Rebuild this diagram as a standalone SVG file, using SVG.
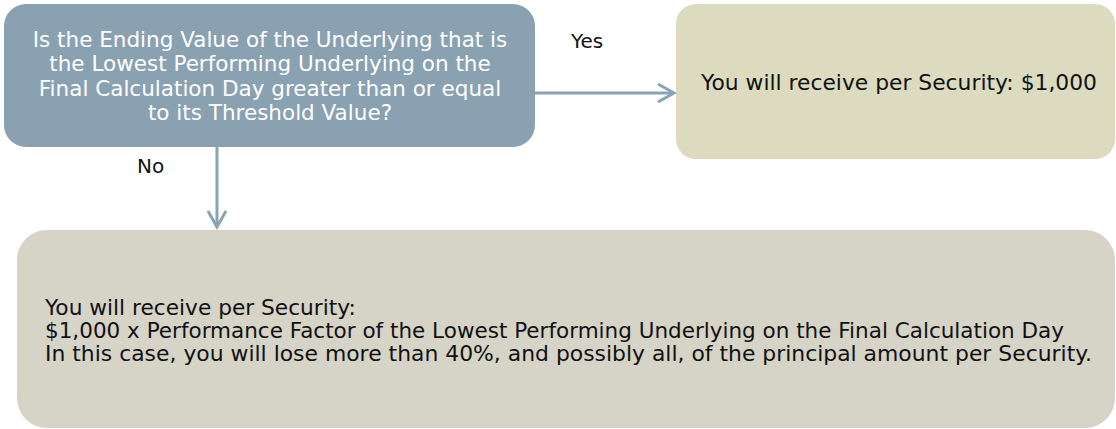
<svg xmlns="http://www.w3.org/2000/svg" width="1116" height="429" viewBox="0 0 1116 429">
<defs>
<style>
.t{font-family:"DejaVu Sans",Verdana,sans-serif;font-size:21.7px;fill:#111}
.w{font-family:"DejaVu Sans",Verdana,sans-serif;font-size:21.5px;fill:#fff;text-anchor:middle}
.l{font-family:"DejaVu Sans",Verdana,sans-serif;font-size:20px;fill:#111}
.c{stroke:#8aa3b5;stroke-width:3;fill:none}
</style>
<marker id="a" markerWidth="20" markerHeight="22" refX="17" refY="11" orient="auto" markerUnits="userSpaceOnUse">
<path d="M1,2 L17,11 L1,20" fill="none" stroke="#8aa3b5" stroke-width="3"/>
</marker>
</defs>
<rect width="1116" height="429" fill="#fff"/>
<g id="question">
<rect x="4" y="4" width="531" height="143" rx="22" fill="#8aa1b2"/>
<text class="w" x="270" y="47">Is the Ending Value of the Underlying that is</text>
<text class="w" x="270" y="71">the Lowest Performing Underlying on the</text>
<text class="w" x="270" y="96">Final Calculation Day greater than or equal</text>
<text class="w" x="270" y="120">to its Threshold Value?</text>
</g>
<g id="yes-result">
<rect x="676" y="4" width="439" height="155" rx="20" fill="#dcdbc0"/>
<text class="t" x="701" y="90" textLength="396" lengthAdjust="spacingAndGlyphs">You will receive per Security: $1,000</text>
</g>
<g id="no-result">
<rect x="17" y="230" width="1098" height="198" rx="30" fill="#d6d3c7"/>
<text class="t" x="45" y="315">You will receive per Security:</text>
<text class="t" x="45" y="338" textLength="1019" lengthAdjust="spacingAndGlyphs">$1,000 x Performance Factor of the Lowest Performing Underlying on the Final Calculation Day</text>
<text class="t" x="45" y="361" textLength="1047" lengthAdjust="spacingAndGlyphs">In this case, you will lose more than 40%, and possibly all, of the principal amount per Security.</text>
</g>
<g id="connectors">
<path class="c" d="M535,93 H674" marker-end="url(#a)"/>
<path class="c" d="M217,147 V227" marker-end="url(#a)"/>
<text class="l" x="571" y="48">Yes</text>
<text class="l" x="137" y="173">No</text>
</g>
</svg>
